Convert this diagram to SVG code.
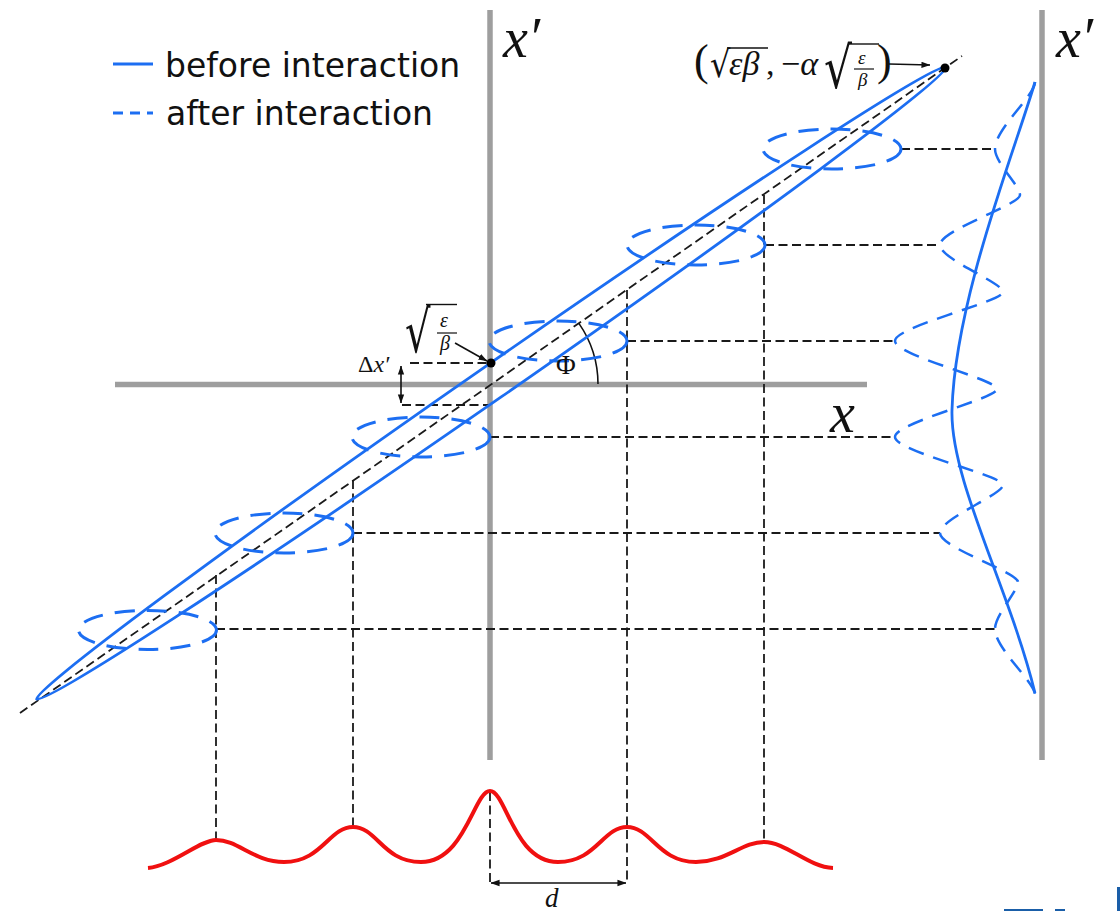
<svg xmlns="http://www.w3.org/2000/svg" width="1120" height="911" viewBox="0 0 1120 911">
<style>
.axis{stroke:#9e9e9e;stroke-width:5.5;fill:none}
.blue{stroke:#1c6ef2;stroke-width:2.8;fill:none}
.bdash{stroke:#1c6ef2;stroke-width:3;fill:none;stroke-dasharray:20 12}
.pdash{stroke:#1c6ef2;stroke-width:2.5;fill:none;stroke-dasharray:16 10}
.kd{stroke:#1a1a1a;stroke-width:1.8;fill:none;stroke-dasharray:9 4.5}
.k{stroke:#111;stroke-width:1.6;fill:none}
.red{stroke:#f01010;stroke-width:4;fill:none}
.leg{font-family:"DejaVu Sans",sans-serif;font-size:33px;fill:#111}
.m{font-family:"Liberation Serif","DejaVu Serif",serif;fill:#111}
.mi{font-family:"Liberation Serif","DejaVu Serif",serif;font-style:italic;fill:#111}
.rad{font-family:"DejaVu Sans",sans-serif;fill:#111}
</style>
<defs>
<marker id="ah" viewBox="0 0 10 10" refX="9.5" refY="5" markerWidth="9" markerHeight="9" markerUnits="userSpaceOnUse" orient="auto-start-reverse">
<path d="M0,1.5 L10,5 L0,8.5 z" fill="#111"/>
</marker>
</defs>
<rect width="1120" height="911" fill="#fff"/>

<g id="axes">
<line class="axis" x1="490" y1="10" x2="490" y2="760"/>
<line class="axis" x1="115" y1="384.5" x2="867" y2="384.5"/>
<line class="axis" x1="1042" y1="10" x2="1042" y2="760"/>
<text class="mi" x="503" y="57" font-size="56">x′</text>
<text class="mi" x="1056" y="57" font-size="56">x′</text>
<text class="mi" x="830" y="432" font-size="56">x</text>
</g>

<g id="legend">
<line class="blue" x1="113" y1="64" x2="153" y2="64" stroke-width="3"/>
<text class="leg" x="165" y="77">before interaction</text>
<line class="blue" x1="113" y1="113" x2="153" y2="113" stroke-width="3" stroke-dasharray="10 7"/>
<text class="leg" x="166" y="125">after interaction</text>
</g>

<g id="connectors">
<line class="kd" x1="20" y1="713" x2="962" y2="56"/>
<line class="kd" x1="901" y1="149" x2="995" y2="149"/>
<line class="kd" x1="765" y1="245" x2="940" y2="245"/>
<line class="kd" x1="627" y1="341" x2="895" y2="341"/>
<line class="kd" x1="490" y1="437" x2="895" y2="437"/>
<line class="kd" x1="353" y1="533" x2="940" y2="533"/>
<line class="kd" x1="216" y1="629" x2="995" y2="629"/>
<line class="kd" x1="216" y1="575" x2="216" y2="840"/>
<line class="kd" x1="353" y1="480" x2="353" y2="827"/>
<line class="kd" x1="627" y1="290" x2="627" y2="883"/>
<line class="kd" x1="764" y1="195" x2="764" y2="842"/>
<line class="kd" x1="490" y1="792" x2="490" y2="883"/>
<line class="kd" x1="410" y1="363" x2="490" y2="363"/>
<line class="kd" x1="402" y1="405" x2="490" y2="405"/>
<line class="k" x1="401" y1="366" x2="401" y2="403" marker-start="url(#ah)" marker-end="url(#ah)"/>
<line class="k" x1="491" y1="883" x2="626" y2="883" marker-start="url(#ah)" marker-end="url(#ah)"/>
<line class="k" x1="455" y1="343" x2="487" y2="361" marker-end="url(#ah)"/>
<line class="k" x1="889" y1="64" x2="930" y2="65" marker-end="url(#ah)"/>
<path class="k" d="M578.9,323.4 A107,107 0 0 1 598,384"/>
</g>

<g id="phase-ellipse">
<ellipse class="blue" cx="491.5" cy="383" rx="554" ry="17" transform="rotate(-34.8 491.5 383)"/>
<circle cx="491" cy="363" r="4.5" fill="#000"/>
<circle cx="945" cy="68" r="4.5" fill="#000"/>
</g>

<g id="after-ellipses">
<ellipse class="bdash" cx="832" cy="149" rx="69" ry="20"/>
<ellipse class="bdash" cx="696" cy="245" rx="69" ry="20"/>
<ellipse class="bdash" cx="558" cy="341" rx="69" ry="20"/>
<ellipse class="bdash" cx="421" cy="437" rx="69" ry="20"/>
<ellipse class="bdash" cx="284" cy="533" rx="69" ry="20"/>
<ellipse class="bdash" cx="147.5" cy="630" rx="69" ry="19.5"/>
</g>

<g id="profile-right">
<path class="blue" stroke-width="2.2" d="M1035,82 C1015,150 955,300 952,410 C950,480 1010,590 1035,693"/>
<path class="pdash" d="M1035,82 C1035,95.4 995,128.9 995,149 C995,162.8 1020,185.8 1020,195 C1020,205 940,230 940,245 C940,259.1 1003,282.6 1003,292 C1003,301.8 895,326.3 895,341 C895,355.4 997,379.4 997,389 C997,398.6 895,422.6 895,437 C895,451.4 1003,475.4 1003,485 C1003,494.6 940,518.6 940,533 C940,547.7 1018,572.2 1018,582 C1018,591.4 995,614.9 995,629 C995,648.8 1035,681.8 1035,695"/>
</g>

<g id="profile-bottom">
<path class="red" d="M148,868 C172,866 200,840 216,840 C238,840 254,862 284,862 C322,862 329,827 353,827 C377,827 383,862 421,862 C465,862 474,791 490,791 C506,791 514,862 558,862 C596,862 603,827 627,827 C651,827 658,862 696,862 C726,862 742,842 764,842 C786,842 808,867 833,868"/>
<text class="mi" x="545" y="907" font-size="27">d</text>
</g>

<g id="label-sqrt">
<text class="rad" font-size="40" transform="translate(405,352) scale(1,1.45)">√</text>
<line x1="426" y1="304.5" x2="457" y2="304.5" stroke="#111" stroke-width="1.4"/>
<text class="mi" x="440" y="327" font-size="20">ε</text>
<line x1="437" y1="333" x2="457" y2="333" stroke="#111" stroke-width="1.2"/>
<text class="mi" x="440" y="350" font-size="20">β</text>
</g>

<g id="label-dx">
<text class="m" x="358" y="372" font-size="24">Δ<tspan class="mi">x′</tspan></text>
</g>

<g id="label-phi">
<text class="m" x="556" y="374" font-size="27">Φ</text>
</g>

<g id="label-tip">
<text class="m" x="694" y="75" font-size="44">(</text>
<text class="rad" font-size="32" transform="translate(710,77) scale(1,1.15)">√</text>
<line x1="727" y1="48" x2="768" y2="48" stroke="#111" stroke-width="1.4"/>
<text class="mi" x="729" y="75" font-size="34">εβ</text>
<text class="m" x="766" y="75" font-size="34">,</text>
<text class="m" x="781" y="75" font-size="34">−<tspan class="mi">α</tspan></text>
<text class="rad" font-size="44" transform="translate(824,88) scale(1,1.3)">√</text>
<line x1="849" y1="44" x2="879" y2="44" stroke="#111" stroke-width="1.4"/>
<text class="mi" x="858" y="64" font-size="19">ε</text>
<line x1="854" y1="69" x2="874" y2="69" stroke="#111" stroke-width="1.2"/>
<text class="mi" x="858" y="86" font-size="19">β</text>
<text class="m" x="877" y="75" font-size="44">)</text>
</g>

<g id="corner-marks" fill="#1a5ea8">
<rect x="1004" y="909" width="39" height="2"/>
<rect x="1055" y="909" width="10" height="2"/>
<rect x="1117" y="887" width="3" height="24"/>
</g>
</svg>
